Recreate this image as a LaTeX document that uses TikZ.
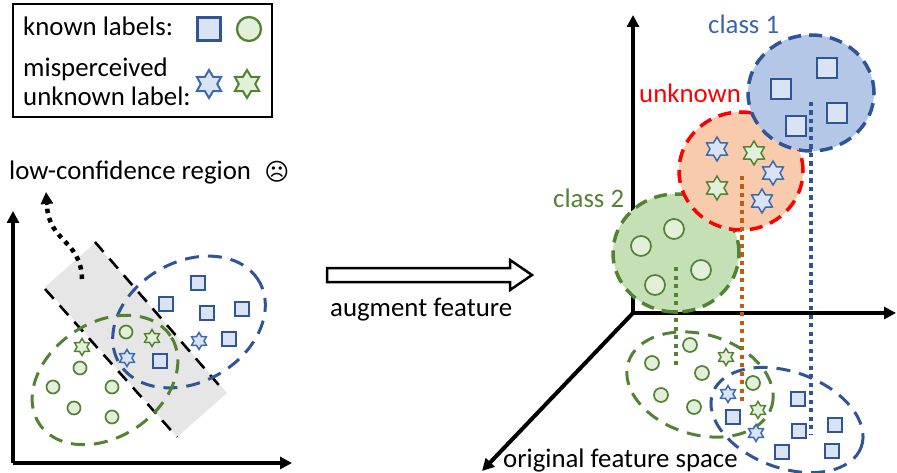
\documentclass[tikz,border=0pt]{standalone}
\usepackage{fontspec}
\setmainfont{Carlito}
\newfontfamily\symfont{DejaVu Sans}
\usetikzlibrary{shapes.geometric,arrows.meta}
\definecolor{bluedk}{HTML}{2F5597}
\definecolor{bluelt}{HTML}{DAE3F3}
\definecolor{bluestar}{HTML}{3D6AAA}
\definecolor{bluereg}{HTML}{B4C7E7}
\definecolor{bluetext}{HTML}{3C64AE}
\definecolor{greendk}{HTML}{548235}
\definecolor{greenlt}{HTML}{E2F0D9}
\definecolor{greenreg}{HTML}{C5E0B4}
\definecolor{orangereg}{HTML}{F8CBAD}
\definecolor{orangedot}{HTML}{C55A11}
\definecolor{bandgray}{HTML}{E7E6E6}
\begin{document}
\begin{tikzpicture}[x=1pt,y=-1pt,
  txt/.style={inner sep=0pt, font=\fontsize{26.8}{28}\selectfont},
  bsq/.style={rectangle, draw=bluedk, fill=bluelt, line width=1.7pt, minimum size=#1, inner sep=0pt},
  gcirc/.style={circle, draw=greendk, fill=greenlt, line width=1.7pt, minimum size=#1, inner sep=0pt},
  bstar/.style={star, star points=6, star point ratio=1.7, draw=bluestar, fill=bluelt, line width=1.5pt, minimum size=#1, inner sep=0pt},
  gstar/.style={star, star points=6, star point ratio=1.7, draw=greendk, fill=greenlt, line width=1.5pt, minimum size=#1, inner sep=0pt},
  axis/.style={line width=3.5pt, -{Triangle[length=12pt,width=12pt]}},
  dashb/.style={draw=bluedk, line width=3pt, dash pattern=on 14pt off 9pt},
  dashg/.style={draw=greendk, line width=3pt, dash pattern=on 14pt off 9pt},
  dotline/.style={line width=4.2pt, dash pattern=on 4.2pt off 4.3pt}
]
\useasboundingbox (0,0) rectangle (897,473);

% ---------- legend ----------
\node[draw, rectangle, line width=2.8pt, minimum width=259pt, minimum height=113pt] (legend) at (142.5,60.5) {};
\node[txt, anchor=base west] (known) at (23,36) {known labels:};
\node[txt, anchor=base west] (misp) at (23,77) {misperceived};
\node[txt, anchor=base west] (unkl) at (23,106) {unknown label:};
\node[bsq=23pt, line width=2.3pt] (lsq) at (209,29) {};
\node[gcirc=24pt, line width=2.3pt] (lci) at (249,29) {};
\node[bstar=28pt, line width=2pt] (lbs) at (209,84) {};
\node[gstar=28pt, line width=2pt] (lgs) at (247,84) {};

% ---------- left plot ----------
\node[txt, anchor=base west] (lowconf) at (9,180) {low-confidence region};
\node[inner sep=0pt, font=\symfont\fontsize{24}{24}\selectfont] (frown) at (277,172) {☹};

\fill[bandgray] (45,287) -- (95,243) -- (227,393) -- (177,437) -- cycle;
\coordinate (b1s) at (95,242); \coordinate (b1e) at (224,391);
\coordinate (b2s) at (45,289); \coordinate (b2e) at (177,437);
\draw[line width=2.6pt, dash pattern=on 13pt off 9pt] (b1s) -- (b1e);
\draw[line width=2.6pt, dash pattern=on 13pt off 9pt] (b2s) -- (b2e);

\coordinate (lo) at (13,463);
\coordinate (ly) at (13,211);
\coordinate (lx) at (292,463);
\draw[axis] (lo) -- (ly);
\draw[axis] (lo) -- (lx);

\coordinate (cs) at (82,279);
\coordinate (ce) at (46,192);
\draw[line width=4.5pt, dash pattern=on 4.5pt off 5pt] (cs) .. controls (81,240) and (49,242) .. (47,206);
\draw[line width=3.5pt, -{Triangle[length=12pt,width=12pt]}] (47,205) -- (ce);

\draw[dashb, rotate around={30:(189,322)}] (189,322) ellipse [x radius=81pt, y radius=60pt];
\draw[dashg, rotate around={34:(105,380)}] (105,380) ellipse [x radius=79pt, y radius=57pt];

\node[bsq=14pt] (s1) at (198,283) {};
\node[bsq=14pt] (s2) at (166,304) {};
\node[bsq=14pt] (s3) at (207,313) {};
\node[bsq=14pt] (s4) at (242,309) {};
\node[bsq=14pt] (s5) at (229,339) {};
\node[bsq=14pt] (s6) at (160,361) {};
\node[bstar=17pt] (st1) at (199,341) {};
\node[bstar=17pt] (st2) at (127,358) {};
\node[gstar=17pt] (st3) at (82,347) {};
\node[gstar=17pt] (st4) at (152,338) {};
\node[gcirc=13pt] (c1) at (126,332) {};
\node[gcirc=13pt] (c2) at (80,368) {};
\node[gcirc=13pt] (c3) at (53,387) {};
\node[gcirc=13pt] (c4) at (112,387) {};
\node[gcirc=13pt] (c5) at (74,408) {};
\node[gcirc=13pt] (c6) at (112,417) {};

% ---------- middle arrow ----------
\draw[line width=2.5pt, fill=white, line join=miter] (327,268) -- (510,268) -- (510,260) -- (532,275) -- (510,290) -- (510,282) -- (327,282) -- cycle;
\node[txt, anchor=base west] (aug) at (330,316) {augment feature};

% ---------- right plot ----------
\coordinate (O) at (633,313);
\coordinate (Zt) at (633,15);
\coordinate (Xr) at (896,313);
\coordinate (Dz) at (482,471);
\draw[axis, line width=4pt] (O) -- (Zt);
\draw[axis, line width=4pt] (O) -- (Xr);
\draw[axis, line width=4pt] (O) -- (Dz);

\node[txt, anchor=base west, text=bluetext] (cl1) at (708,34) {class 1};
\node[txt, anchor=base west, text=red] (unk) at (639,103) {unknown};
\node[txt, anchor=base west, text=greendk] (cl2) at (553,208) {class 2};
\node[txt, anchor=base west] (orig) at (503,467) {original feature space};

% regions
\draw[fill=greenreg, draw=greendk, line width=3.5pt, dash pattern=on 13pt off 8pt] (676,253) ellipse [x radius=63pt, y radius=59pt];
\node[gcirc=20pt] (g1) at (674,229) {};
\node[gcirc=20pt] (g2) at (641,246) {};
\node[gcirc=20pt] (g3) at (701,270) {};
\node[gcirc=20pt] (g4) at (655,285) {};

\draw[fill=orangereg, draw=red, line width=3.5pt, dash pattern=on 13pt off 8pt] (741,171) ellipse [x radius=62pt, y radius=59pt];
\node[bstar=24pt] (u1) at (717,149) {};
\node[gstar=24pt] (u2) at (754,153) {};
\node[bstar=24pt] (u3) at (773,173) {};
\node[gstar=24pt] (u4) at (717,188) {};
\node[bstar=24pt] (u5) at (762,201) {};

\draw[fill=bluereg, draw=bluedk, line width=3.5pt, dash pattern=on 13pt off 8pt] (811,93) ellipse [x radius=63pt, y radius=58pt];
\node[bsq=20pt] (k1) at (827,68) {};
\node[bsq=20pt] (k2) at (781,89) {};
\node[bsq=20pt] (k3) at (837,113) {};
\node[bsq=20pt] (k4) at (796,126) {};

% projections
\coordinate (pbs) at (811,102); \coordinate (pbe) at (811,435);
\coordinate (pos) at (742,176); \coordinate (poe) at (742,402);
\coordinate (pgs) at (676,267); \coordinate (pge) at (676,367);
\draw[dotline, bluedk] (pbs) -- (pbe);
\draw[dotline, orangedot] (pos) -- (poe);
\draw[dotline, greendk] (pgs) -- (pge);

% bottom ellipses
\draw[dashg, rotate around={-17:(700,384.5)}] (700,384.5) ellipse [x radius=75pt, y radius=50pt];
\draw[dashb, rotate around={-20:(787,420)}] (787,420) ellipse [x radius=79pt, y radius=48pt];

\node[gcirc=14pt] (d1) at (690,345) {};
\node[gcirc=14pt] (d2) at (652,363) {};
\node[gcirc=14pt] (d3) at (702,373) {};
\node[gcirc=14pt] (d4) at (753,383) {};
\node[gcirc=14pt] (d5) at (661,395) {};
\node[gcirc=14pt] (d6) at (694,407) {};
\node[gstar=17pt] (d7) at (726,357) {};
\node[gstar=17pt] (d8) at (758,410) {};
\node[bstar=17pt] (d9) at (728,394) {};
\node[bstar=17pt] (d10) at (756,433) {};
\node[bsq=14pt] (e1) at (733,417) {};
\node[bsq=14pt] (e2) at (798,399) {};
\node[bsq=14pt] (e3) at (799,431) {};
\node[bsq=14pt] (e4) at (835,425) {};
\node[bsq=14pt] (e5) at (782,452) {};
\node[bsq=14pt] (e6) at (832,451) {};
\end{tikzpicture}
\end{document}
